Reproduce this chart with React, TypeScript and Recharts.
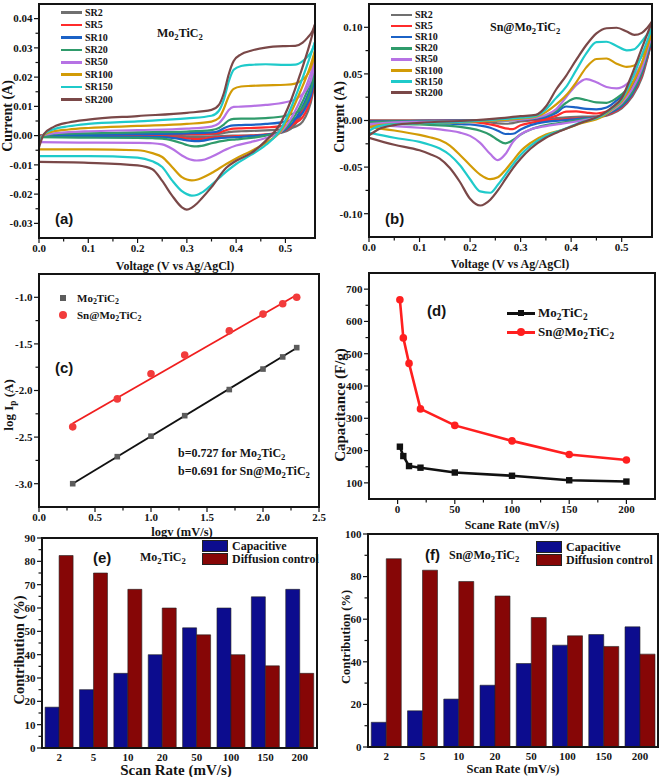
import React from 'react';
import { LineChart, Line, XAxis, YAxis, ComposedChart, Scatter, BarChart, Bar } from 'recharts';

const SERIF = '"Liberation Serif", "Times New Roman", serif';
const SANS = '"Liberation Sans", Arial, sans-serif';
const INK = '#141414';

// ---- (a)/(b) cyclic voltammograms ----
const SCAN_LABELS = ['SR2', 'SR5', 'SR10', 'SR20', 'SR50', 'SR100', 'SR150', 'SR200'];
const SCAN_COLORS = ['#707070', '#ff2b2b', '#1b62c6', '#2f9b6b', '#b672e4', '#d29b06', '#1fcaca', '#7a4848'];

// (a) Mo2TiC2, forward (anodic) sweep
const A_V_FWD = [0, 0.01, 0.03, 0.06, 0.1, 0.2, 0.3, 0.35, 0.365, 0.375, 0.385, 0.395, 0.41, 0.43, 0.46, 0.5, 0.52, 0.535, 0.545, 0.555, 0.56];
const A_I_FWD = [
  [-0.0001, 0, 0.0001, 0.0001, 0.0001, 0.0002, 0.0003, 0.0004, 0.0006, 0.0009, 0.0012, 0.0014, 0.0015, 0.0016, 0.0018, 0.0022, 0.003, 0.0048, 0.008, 0.014, 0.02],
  [-0.0002, 0, 0.0002, 0.0003, 0.0003, 0.0004, 0.0005, 0.0007, 0.001, 0.0016, 0.0021, 0.0024, 0.0025, 0.0026, 0.0028, 0.0034, 0.0043, 0.0063, 0.0095, 0.015, 0.021],
  [-0.0003, 0.0001, 0.0003, 0.0004, 0.0005, 0.0006, 0.0008, 0.0011, 0.0016, 0.0025, 0.0032, 0.0035, 0.0036, 0.0037, 0.004, 0.0048, 0.0058, 0.0078, 0.011, 0.016, 0.022],
  [-0.0006, 0.0001, 0.0005, 0.0007, 0.0008, 0.0011, 0.0014, 0.0019, 0.0026, 0.0038, 0.0052, 0.0057, 0.0058, 0.0058, 0.006, 0.0068, 0.0078, 0.0095, 0.0125, 0.018, 0.024],
  [-0.001, 0.0002, 0.0008, 0.0012, 0.0015, 0.0019, 0.0024, 0.0031, 0.0042, 0.0062, 0.0088, 0.0098, 0.0099, 0.0101, 0.0105, 0.0114, 0.0124, 0.0142, 0.0165, 0.021, 0.026],
  [-0.0015, 0.0003, 0.0015, 0.0021, 0.0026, 0.0033, 0.004, 0.0048, 0.006, 0.0092, 0.0135, 0.016, 0.0168, 0.017, 0.0172, 0.0174, 0.0178, 0.0192, 0.021, 0.025, 0.029],
  [-0.0025, 0.0005, 0.0022, 0.0032, 0.004, 0.0049, 0.0059, 0.0068, 0.0085, 0.0123, 0.0185, 0.0225, 0.0238, 0.0242, 0.0244, 0.0242, 0.0243, 0.0255, 0.027, 0.0295, 0.032],
  [-0.004, 0.0005, 0.003, 0.0045, 0.0055, 0.0067, 0.0078, 0.0088, 0.0105, 0.0145, 0.021, 0.0255, 0.0278, 0.029, 0.0301, 0.0306, 0.0307, 0.0318, 0.0335, 0.0358, 0.038],
];
// (a) Mo2TiC2, reverse (cathodic) sweep
const A_V_REV = [0, 0.1, 0.2, 0.23, 0.25, 0.27, 0.29, 0.3, 0.31, 0.32, 0.33, 0.35, 0.38, 0.4, 0.43, 0.46, 0.49, 0.51, 0.53, 0.55, 0.56];
const A_I_REV = [
  [0, 0, 0, -0.0001, -0.0001, -0.0002, -0.0003, -0.0004, -0.0005, -0.0005, -0.0005, -0.0003, -0.0001, 0, 0.0001, 0.0003, 0.0009, 0.0022, 0.0065, 0.014, 0.02],
  [0, 0, -0.0001, -0.0002, -0.0003, -0.0005, -0.0008, -0.001, -0.0011, -0.0012, -0.0011, -0.0007, -0.0004, -0.0002, 0, 0.0004, 0.0012, 0.003, 0.0075, 0.015, 0.021],
  [-0.0002, -0.0002, -0.0003, -0.0004, -0.0005, -0.0008, -0.0013, -0.0016, -0.0018, -0.0019, -0.0018, -0.0012, -0.0007, -0.0005, -0.0002, 0.0003, 0.0012, 0.0035, 0.0085, 0.016, 0.022],
  [-0.0005, -0.0007, -0.0008, -0.0009, -0.001, -0.0016, -0.0026, -0.0032, -0.0036, -0.0037, -0.0035, -0.0026, -0.0016, -0.0013, -0.0008, 0, 0.0012, 0.0045, 0.01, 0.018, 0.024],
  [-0.0022, -0.0024, -0.0025, -0.0026, -0.003, -0.0045, -0.0068, -0.0077, -0.0083, -0.0085, -0.0084, -0.0072, -0.0047, -0.0034, -0.0022, -0.0008, 0.0012, 0.0055, 0.012, 0.0205, 0.026],
  [-0.0047, -0.0047, -0.005, -0.006, -0.0073, -0.0107, -0.0142, -0.015, -0.0153, -0.0151, -0.0145, -0.0128, -0.0097, -0.0078, -0.0053, -0.0025, 0.0015, 0.0075, 0.015, 0.0235, 0.029],
  [-0.007, -0.007, -0.0075, -0.0088, -0.0107, -0.0153, -0.019, -0.02, -0.0205, -0.0203, -0.0195, -0.0168, -0.0123, -0.0097, -0.0066, -0.0032, 0.002, 0.009, 0.0175, 0.027, 0.032],
  [-0.009, -0.0093, -0.0102, -0.0115, -0.0155, -0.0205, -0.0245, -0.0253, -0.0246, -0.0233, -0.0215, -0.0176, -0.011, -0.0086, -0.006, -0.0018, 0.0042, 0.0115, 0.021, 0.0317, 0.038],
];

// (b) Sn@Mo2TiC2, forward sweep
const B_V_FWD = [0, 0.02, 0.05, 0.1, 0.2, 0.25, 0.3, 0.33, 0.35, 0.37, 0.39, 0.41, 0.43, 0.45, 0.47, 0.49, 0.51, 0.525, 0.54, 0.55, 0.56];
const B_I_FWD = [
  [0, 0, 0, 0, 0.0002, 0.0004, 0.0007, 0.001, 0.0015, 0.0025, 0.0035, 0.004, 0.0042, 0.0045, 0.0065, 0.013, 0.024, 0.035, 0.051, 0.066, 0.087],
  [-0.0005, -0.0005, -0.0005, -0.0003, 0, 0.0002, 0.0005, 0.0012, 0.002, 0.005, 0.0095, 0.0098, 0.0085, 0.0075, 0.0095, 0.017, 0.028, 0.039, 0.054, 0.068, 0.088],
  [-0.001, -0.001, -0.001, -0.0005, 0, 0.0003, 0.0007, 0.002, 0.0036, 0.008, 0.015, 0.014, 0.0125, 0.012, 0.014, 0.0215, 0.031, 0.041, 0.056, 0.07, 0.089],
  [-0.002, -0.0015, -0.001, -0.001, -0.0005, 0, 0.001, 0.0028, 0.0053, 0.01, 0.019, 0.024, 0.022, 0.0195, 0.019, 0.024, 0.033, 0.043, 0.058, 0.072, 0.091],
  [-0.004, -0.003, -0.002, -0.0014, -0.0007, 0, 0.001, 0.003, 0.006, 0.012, 0.025, 0.038, 0.0445, 0.041, 0.036, 0.0345, 0.039, 0.048, 0.062, 0.076, 0.093],
  [-0.007, -0.005, -0.004, -0.003, -0.0014, 0, 0.002, 0.004, 0.009, 0.017, 0.027, 0.041, 0.057, 0.066, 0.0665, 0.061, 0.0575, 0.059, 0.069, 0.079, 0.096],
  [-0.011, -0.006, -0.004, -0.003, -0.001, 0.001, 0.003, 0.005, 0.012, 0.024, 0.036, 0.054, 0.072, 0.084, 0.0845, 0.08, 0.0752, 0.0765, 0.085, 0.092, 0.099],
  [-0.016, -0.009, -0.005, -0.0025, 0, 0.002, 0.0046, 0.006, 0.015, 0.033, 0.048, 0.065, 0.081, 0.0935, 0.099, 0.0995, 0.0955, 0.0918, 0.094, 0.099, 0.106],
];
// (b) Sn@Mo2TiC2, reverse sweep
const B_V_REV = [0, 0.05, 0.1, 0.12, 0.14, 0.16, 0.18, 0.2, 0.22, 0.24, 0.255, 0.27, 0.285, 0.3, 0.32, 0.35, 0.38, 0.42, 0.46, 0.48, 0.5, 0.52, 0.54, 0.56];
const B_I_REV = [
  [0, 0, -0.0002, -0.0002, -0.0003, -0.0003, -0.0004, -0.0007, -0.0012, -0.002, -0.003, -0.0035, -0.0028, -0.001, 0, 0.0005, 0.0012, 0.0025, 0.004, 0.007, 0.013, 0.025, 0.046, 0.087],
  [-0.0007, -0.001, -0.0012, -0.0013, -0.0014, -0.0015, -0.0016, -0.0018, -0.0025, -0.0043, -0.006, -0.0085, -0.0092, -0.005, -0.0025, 0, 0.001, 0.0025, 0.0046, 0.008, 0.0142, 0.0267, 0.049, 0.088],
  [-0.0014, -0.002, -0.0025, -0.0028, -0.003, -0.0035, -0.004, -0.0043, -0.0055, -0.0078, -0.011, -0.0145, -0.0142, -0.0096, -0.005, -0.0014, 0, 0.002, 0.0046, 0.009, 0.0153, 0.0278, 0.051, 0.089],
  [-0.0025, -0.0035, -0.0043, -0.0048, -0.0052, -0.0058, -0.0068, -0.0085, -0.011, -0.0155, -0.021, -0.0245, -0.021, -0.015, -0.0096, -0.005, -0.0025, 0.001, 0.0046, 0.01, 0.017, 0.0295, 0.0527, 0.091],
  [-0.0045, -0.006, -0.0078, -0.0085, -0.0095, -0.011, -0.013, -0.0165, -0.024, -0.036, -0.0425, -0.036, -0.023, -0.015, -0.0096, -0.006, -0.0036, 0, 0.0046, 0.0107, 0.0189, 0.033, 0.056, 0.093],
  [-0.007, -0.0107, -0.0155, -0.018, -0.021, -0.027, -0.037, -0.048, -0.058, -0.063, -0.061, -0.053, -0.043, -0.033, -0.024, -0.015, -0.0105, -0.003, 0.0036, 0.0117, 0.0206, 0.0384, 0.0616, 0.096],
  [-0.013, -0.0185, -0.023, -0.026, -0.03, -0.037, -0.048, -0.063, -0.076, -0.0775, -0.069, -0.058, -0.047, -0.037, -0.027, -0.0167, -0.0105, -0.002, 0.005, 0.0128, 0.0224, 0.044, 0.0705, 0.099],
  [-0.0185, -0.026, -0.032, -0.036, -0.041, -0.051, -0.066, -0.084, -0.0912, -0.085, -0.075, -0.063, -0.051, -0.041, -0.03, -0.0185, -0.011, -0.0025, 0.006, 0.0135, 0.024, 0.049, 0.0776, 0.106],
];

// ---- (c) log Ip vs log v ----
const LOG_V = [0.301, 0.699, 1.0, 1.301, 1.699, 2.0, 2.176, 2.301];
const LOG_IP_MO = [-3.0, -2.71, -2.49, -2.27, -1.99, -1.77, -1.64, -1.54];
const LOG_IP_SN = [-2.39, -2.09, -1.82, -1.62, -1.36, -1.18, -1.07, -1.0];
const FIT_X = [0.3, 2.3];
const FIT_MO = [-3.0, -1.545];
const FIT_SN = [-2.355, -0.975];

// ---- (d) capacitance vs scan rate ----
const RATES = [2, 5, 10, 20, 50, 100, 150, 200];
const CAP_MO = [212, 183, 152, 147, 132, 122, 108, 104];
const CAP_SN = [667, 549, 470, 329, 278, 230, 188, 171];

// ---- (e)/(f) contributions ----
const RATE_LABELS = ['2', '5', '10', '20', '50', '100', '150', '200'];
const E_CAP = [17.5, 25, 32, 40, 51.5, 60, 64.8, 68];
const E_DIF = [82.5, 75, 68, 60, 48.5, 40, 35.2, 32];
const F_CAP = [11.6, 17, 22.5, 29, 39.2, 47.8, 52.8, 56.4];
const F_DIF = [88.4, 83, 77.7, 70.9, 60.8, 52.2, 47.2, 43.6];

// axis ticks
const CV_X_TICKS = [0, 0.1, 0.2, 0.3, 0.4, 0.5];
const A_Y_TICKS = [-0.03, -0.02, -0.01, 0, 0.01, 0.02, 0.03, 0.04];
const B_Y_TICKS = [-0.1, -0.05, 0, 0.05, 0.1];
const C_X_TICKS = [0, 0.5, 1, 1.5, 2, 2.5];
const C_Y_TICKS = [-3, -2.5, -2, -1.5, -1];
const D_X_TICKS = [0, 50, 100, 150, 200];
const D_Y_TICKS = [100, 200, 300, 400, 500, 600, 700];
const E_Y_TICKS = [0, 10, 20, 30, 40, 50, 60, 70, 80, 90];
const F_Y_TICKS = [0, 20, 40, 60, 80, 100];

const BLUE = '#0c0c8e';
const DARKRED = '#860606';

type Rect = { x0: number; y0: number; x1: number; y1: number };
const A_RECT: Rect = { x0: 39, y0: 4, x1: 315, y1: 238 };
const B_RECT: Rect = { x0: 369, y0: 4, x1: 652, y1: 237 };
const C_RECT: Rect = { x0: 39, y0: 274, x1: 319, y1: 507 };
const D_RECT: Rect = { x0: 369, y0: 273, x1: 655, y1: 499 };
const E_RECT: Rect = { x0: 42, y0: 538, x1: 317, y1: 748 };
const F_RECT: Rect = { x0: 368, y0: 534, x1: 658, y1: 747 };

const PAD_L = 46;
const PAD_T = 6;
const PAD_R = 14;
const PAD_B = 26;
const MARGIN = { top: PAD_T, right: PAD_R, left: 0, bottom: 0 };

const boxOf = (r: Rect): React.CSSProperties => ({ position: 'absolute', left: r.x0 - PAD_L, top: r.y0 - PAD_T });
const sizeOf = (r: Rect) => ({ width: r.x1 - r.x0 + PAD_L + PAD_R, height: r.y1 - r.y0 + PAD_T + PAD_B });

const withMinor = (majors: number[]) => {
  const out: number[] = [];
  majors.forEach((m, i) => {
    out.push(m);
    if (i < majors.length - 1) out.push((m + majors[i + 1]) / 2);
  });
  return out;
};
const isMajor = (v: number, majors: number[]) => majors.some((m) => Math.abs(m - v) < 1e-9);

const yTick = (majors: number[], fmt: (v: number) => string) => (p: any) => {
  const v = p.payload.value;
  const major = isMajor(v, majors);
  return (
    <g>
      <line x1={p.x - 1} x2={p.x - (major ? 5 : 3.5)} y1={p.y} y2={p.y} stroke={INK} strokeWidth={1.2} />
      {major && (
        <text x={p.x - 6.5} y={p.y} dy="0.35em" textAnchor="end" fontFamily={SERIF} fontWeight="bold" fontSize={11} fill={INK}>
          {fmt(v)}
        </text>
      )}
    </g>
  );
};

const xTick = (majors: number[], fmt: (v: number) => string) => (p: any) => {
  const v = p.payload.value;
  const major = isMajor(v, majors);
  return (
    <g>
      <line x1={p.x} x2={p.x} y1={p.y + 1} y2={p.y + (major ? 5 : 3.5)} stroke={INK} strokeWidth={1.2} />
      {major && (
        <text x={p.x} y={p.y + 14} textAnchor="middle" fontFamily={SERIF} fontWeight="bold" fontSize={11} fill={INK}>
          {fmt(v)}
        </text>
      )}
    </g>
  );
};

const catTick = (p: any) => (
  <text x={p.x} y={p.y + 12.5} textAnchor="middle" fontFamily={SERIF} fontWeight="bold" fontSize={11} fill={INK}>
    {p.payload.value}
  </text>
);

const f0 = (v: number) => String(Math.round(v));
const f1 = (v: number) => v.toFixed(1);
const f2 = (v: number) => v.toFixed(2);

const Frame = ({ r }: { r: Rect }) => (
  <div
    style={{
      position: 'absolute',
      left: r.x0 - 1,
      top: r.y0 - 1,
      width: r.x1 - r.x0 + 2,
      height: r.y1 - r.y0 + 2,
      border: `2px solid ${INK}`,
      boxSizing: 'border-box',
      pointerEvents: 'none',
    }}
  />
);

type TxtProps = {
  x: number;
  y: number;
  size: number;
  anchor?: 'start' | 'middle' | 'end';
  rotate?: boolean;
  sans?: boolean;
  children: React.ReactNode;
};
function Txt({ x, y, size, anchor = 'start', rotate = false, sans = false, children }: TxtProps) {
  const tx = anchor === 'start' ? '0' : anchor === 'middle' ? '-50%' : '-100%';
  return (
    <div
      style={{
        position: 'absolute',
        left: x,
        top: y,
        transform: rotate ? 'translate(-50%,-50%) rotate(-90deg)' : `translate(${tx},-50%)`,
        fontFamily: sans ? SANS : SERIF,
        fontWeight: 'bold',
        fontSize: size,
        lineHeight: 1,
        whiteSpace: 'nowrap',
        color: INK,
      }}
    >
      {children}
    </div>
  );
}

const Sub = ({ children }: { children: React.ReactNode }) => (
  <span style={{ fontSize: '0.72em', position: 'relative', top: '0.3em' }}>{children}</span>
);
const Mo = () => (
  <>
    Mo<Sub>2</Sub>TiC<Sub>2</Sub>
  </>
);

function CvPanel(props: {
  r: Rect;
  vFwd: number[];
  iFwd: number[][];
  vRev: number[];
  iRev: number[][];
  yDomain: [number, number];
  yTicks: number[];
}) {
  const { r, vFwd, iFwd, vRev, iRev, yDomain, yTicks } = props;
  const series = SCAN_LABELS.map((name, k) => ({
    name,
    color: SCAN_COLORS[k],
    fwd: vFwd.map((v, j) => ({ v, i: iFwd[k][j] })),
    rev: vRev.map((v, j) => ({ v, i: iRev[k][j] })),
  }));
  return (
    <div style={boxOf(r)}>
      <LineChart {...sizeOf(r)} margin={MARGIN}>
        <XAxis
          type="number"
          dataKey="v"
          domain={[0, 0.56]}
          allowDataOverflow
          ticks={withMinor(CV_X_TICKS)}
          interval={0}
          tick={xTick(CV_X_TICKS, f1)}
          tickSize={0}
          tickMargin={0}
          tickLine={false}
          axisLine={false}
          height={PAD_B}
        />
        <YAxis
          type="number"
          domain={yDomain}
          allowDataOverflow
          ticks={withMinor(yTicks)}
          interval={0}
          tick={yTick(yTicks, f2)}
          tickSize={0}
          tickMargin={0}
          tickLine={false}
          axisLine={false}
          width={PAD_L}
        />
        {series.flatMap((s) => [
          <Line key={s.name + 'f'} data={s.fwd} dataKey="i" type="monotone" stroke={s.color} strokeWidth={2.2} dot={false} isAnimationActive={false} />,
          <Line key={s.name + 'r'} data={s.rev} dataKey="i" type="monotone" stroke={s.color} strokeWidth={2.2} dot={false} isAnimationActive={false} />,
        ])}
      </LineChart>
    </div>
  );
}

function CvLegend({ x, y0, step }: { x: number; y0: number; step: number }) {
  return (
    <>
      {SCAN_LABELS.map((name, k) => (
        <React.Fragment key={name}>
          <div style={{ position: 'absolute', left: x, top: y0 + k * step - 1.25, width: 21, height: 2.5, background: SCAN_COLORS[k] }} />
          <Txt x={x + 24} y={y0 + k * step} size={10}>
            {name}
          </Txt>
        </React.Fragment>
      ))}
    </>
  );
}

function BarPanel({ r, cap, dif, yMax, yTicks }: { r: Rect; cap: number[]; dif: number[]; yMax: number; yTicks: number[] }) {
  const rows = RATE_LABELS.map((rate, k) => ({ rate, cap: cap[k], dif: dif[k] }));
  return (
    <div style={boxOf(r)}>
      <BarChart {...sizeOf(r)} data={rows} margin={MARGIN} barCategoryGap="9%" barGap={0}>
        <XAxis dataKey="rate" type="category" interval={0} tick={catTick} tickSize={0} tickMargin={0} tickLine={false} axisLine={false} height={PAD_B} />
        <YAxis
          type="number"
          domain={[0, yMax]}
          allowDataOverflow
          ticks={withMinor(yTicks)}
          interval={0}
          tick={yTick(yTicks, f0)}
          tickSize={0}
          tickMargin={0}
          tickLine={false}
          axisLine={false}
          width={PAD_L}
        />
        <Bar dataKey="cap" fill={BLUE} stroke="#222" strokeWidth={0.6} isAnimationActive={false} />
        <Bar dataKey="dif" fill={DARKRED} stroke="#222" strokeWidth={0.6} isAnimationActive={false} />
      </BarChart>
    </div>
  );
}

function BarLegend({ x, y }: { x: number; y: number }) {
  const box = (top: number, color: string) => (
    <div style={{ position: 'absolute', left: x, top, width: 26, height: 12, background: color, border: '1px solid #222', boxSizing: 'border-box' }} />
  );
  return (
    <>
      {box(y, BLUE)}
      {box(y + 13, DARKRED)}
      <Txt x={x + 30} y={y + 6} size={12}>
        Capacitive
      </Txt>
      <Txt x={x + 30} y={y + 19} size={12}>
        Diffusion control
      </Txt>
    </>
  );
}

const squareShape = (p: any) => <rect x={p.cx - 2.8} y={p.cy - 2.8} width={5.6} height={5.6} fill="#5c5c5c" />;
const circleShape = (p: any) => <circle cx={p.cx} cy={p.cy} r={3.8} fill="#f23b3b" />;
const squareDot = (p: any) => <rect key={'s' + p.index} x={p.cx - 3.2} y={p.cy - 3.2} width={6.4} height={6.4} fill="#111" />;
const circleDot = (p: any) => <circle key={'c' + p.index} cx={p.cx} cy={p.cy} r={3.8} fill="#ff1f1f" />;

export default function App() {
  const ptsMo = LOG_V.map((x, k) => ({ x, y: LOG_IP_MO[k] }));
  const ptsSn = LOG_V.map((x, k) => ({ x, y: LOG_IP_SN[k] }));
  const fitMo = FIT_X.map((x, k) => ({ x, y: FIT_MO[k] }));
  const fitSn = FIT_X.map((x, k) => ({ x, y: FIT_SN[k] }));
  const capRows = RATES.map((r, k) => ({ r, mo: CAP_MO[k], sn: CAP_SN[k] }));

  return (
    <div style={{ position: 'absolute', left: 0, top: 0, width: 661, height: 777, background: '#fff', overflow: 'hidden' }}>
      {/* (a) */}
      <CvPanel r={A_RECT} vFwd={A_V_FWD} iFwd={A_I_FWD} vRev={A_V_REV} iRev={A_I_REV} yDomain={[-0.035, 0.045]} yTicks={A_Y_TICKS} />
      <Frame r={A_RECT} />
      <CvLegend x={61} y0={12.7} step={12.4} />
      <Txt x={157} y={33} size={12}>
        <Mo />
      </Txt>
      <Txt x={55} y={218} size={15} sans>
        (a)
      </Txt>
      <Txt x={8} y={116} size={14} rotate>
        Current (A)
      </Txt>
      <Txt x={175} y={266} size={12} anchor="middle">
        Voltage (V vs Ag/AgCl)
      </Txt>

      {/* (b) */}
      <CvPanel r={B_RECT} vFwd={B_V_FWD} iFwd={B_I_FWD} vRev={B_V_REV} iRev={B_I_REV} yDomain={[-0.125, 0.125]} yTicks={B_Y_TICKS} />
      <Frame r={B_RECT} />
      <CvLegend x={391} y0={15} step={11.1} />
      <Txt x={490} y={27} size={12}>
        Sn@<Mo />
      </Txt>
      <Txt x={385} y={218} size={15} sans>
        (b)
      </Txt>
      <Txt x={340} y={117} size={14} rotate>
        Current (A)
      </Txt>
      <Txt x={510} y={264} size={12} anchor="middle">
        Voltage (V vs Ag/AgCl)
      </Txt>

      {/* (c) */}
      <div style={boxOf(C_RECT)}>
        <ComposedChart {...sizeOf(C_RECT)} margin={MARGIN}>
          <XAxis
            type="number"
            dataKey="x"
            domain={[0, 2.5]}
            allowDataOverflow
            ticks={withMinor(C_X_TICKS)}
            interval={0}
            tick={xTick(C_X_TICKS, f1)}
            tickSize={0}
            tickMargin={0}
            tickLine={false}
            axisLine={false}
            height={PAD_B}
          />
          <YAxis
            type="number"
            dataKey="y"
            domain={[-3.25, -0.75]}
            allowDataOverflow
            ticks={withMinor(C_Y_TICKS)}
            interval={0}
            tick={yTick(C_Y_TICKS, f1)}
            tickSize={0}
            tickMargin={0}
            tickLine={false}
            axisLine={false}
            width={PAD_L}
          />
          <Line data={fitMo} dataKey="y" type="linear" stroke="#111" strokeWidth={1.8} dot={false} isAnimationActive={false} />
          <Line data={fitSn} dataKey="y" type="linear" stroke="#f01e1e" strokeWidth={1.8} dot={false} isAnimationActive={false} />
          <Scatter data={ptsMo} shape={squareShape} isAnimationActive={false} />
          <Scatter data={ptsSn} shape={circleShape} isAnimationActive={false} />
        </ComposedChart>
      </div>
      <Frame r={C_RECT} />
      <div style={{ position: 'absolute', left: 60, top: 295, width: 6, height: 6, background: '#5c5c5c' }} />
      <Txt x={77} y={298} size={11}>
        <Mo />
      </Txt>
      <div style={{ position: 'absolute', left: 59, top: 311, width: 8, height: 8, borderRadius: 4, background: '#f23b3b' }} />
      <Txt x={77} y={315} size={11}>
        Sn@<Mo />
      </Txt>
      <Txt x={55} y={367} size={15} sans>
        (c)
      </Txt>
      <Txt x={178} y={453} size={12}>
        b=0.727 for <Mo />
      </Txt>
      <Txt x={178} y={471} size={12}>
        b=0.691 for Sn@<Mo />
      </Txt>
      <Txt x={9} y={405} size={13} rotate>
        log I<Sub>p</Sub> (A)
      </Txt>
      <Txt x={182} y={532} size={12.5} anchor="middle">
        logv (mV/s)
      </Txt>

      {/* (d) */}
      <div style={boxOf(D_RECT)}>
        <LineChart {...sizeOf(D_RECT)} data={capRows} margin={MARGIN}>
          <XAxis
            type="number"
            dataKey="r"
            domain={[-25, 225]}
            allowDataOverflow
            ticks={withMinor(D_X_TICKS)}
            interval={0}
            tick={xTick(D_X_TICKS, f0)}
            tickSize={0}
            tickMargin={0}
            tickLine={false}
            axisLine={false}
            height={PAD_B}
          />
          <YAxis
            type="number"
            domain={[50, 750]}
            allowDataOverflow
            ticks={withMinor(D_Y_TICKS)}
            interval={0}
            tick={yTick(D_Y_TICKS, f0)}
            tickSize={0}
            tickMargin={0}
            tickLine={false}
            axisLine={false}
            width={PAD_L}
          />
          <Line dataKey="mo" type="linear" stroke="#111" strokeWidth={2.6} dot={squareDot} isAnimationActive={false} />
          <Line dataKey="sn" type="linear" stroke="#ff1f1f" strokeWidth={2.6} dot={circleDot} isAnimationActive={false} />
        </LineChart>
      </div>
      <Frame r={D_RECT} />
      <div style={{ position: 'absolute', left: 507, top: 312, width: 28, height: 2.5, background: '#111' }} />
      <div style={{ position: 'absolute', left: 518, top: 310, width: 6, height: 6, background: '#111' }} />
      <Txt x={538} y={313} size={13}>
        <Mo />
      </Txt>
      <div style={{ position: 'absolute', left: 507, top: 331, width: 28, height: 2.5, background: '#ff1f1f' }} />
      <div style={{ position: 'absolute', left: 517, top: 328, width: 8, height: 8, borderRadius: 4, background: '#ff1f1f' }} />
      <Txt x={538} y={332} size={13}>
        Sn@<Mo />
      </Txt>
      <Txt x={427} y={310} size={15} sans>
        (d)
      </Txt>
      <Txt x={340} y={405} size={15} rotate>
        Capacitance (F/g)
      </Txt>
      <Txt x={512} y={525} size={12} anchor="middle">
        Scane Rate (mV/s)
      </Txt>

      {/* (e) */}
      <BarPanel r={E_RECT} cap={E_CAP} dif={E_DIF} yMax={90} yTicks={E_Y_TICKS} />
      <Frame r={E_RECT} />
      <BarLegend x={202} y={540} />
      <Txt x={93} y={557} size={15} sans>
        (e)
      </Txt>
      <Txt x={140} y={557} size={12}>
        <Mo />
      </Txt>
      <Txt x={19} y={650} size={14.5} rotate>
        Contribution (%)
      </Txt>
      <Txt x={176} y={770} size={15} anchor="middle">
        Scan Rate (mV/s)
      </Txt>

      {/* (f) */}
      <BarPanel r={F_RECT} cap={F_CAP} dif={F_DIF} yMax={100} yTicks={F_Y_TICKS} />
      <Frame r={F_RECT} />
      <BarLegend x={536} y={541} />
      <Txt x={425} y={554} size={15} sans>
        (f)
      </Txt>
      <Txt x={449} y={555} size={12}>
        Sn@<Mo />
      </Txt>
      <Txt x={346} y={637} size={12.5} rotate>
        Contribution (%)
      </Txt>
      <Txt x={513} y={769} size={12.5} anchor="middle">
        Scan Rate (mV/s)
      </Txt>
    </div>
  );
}
